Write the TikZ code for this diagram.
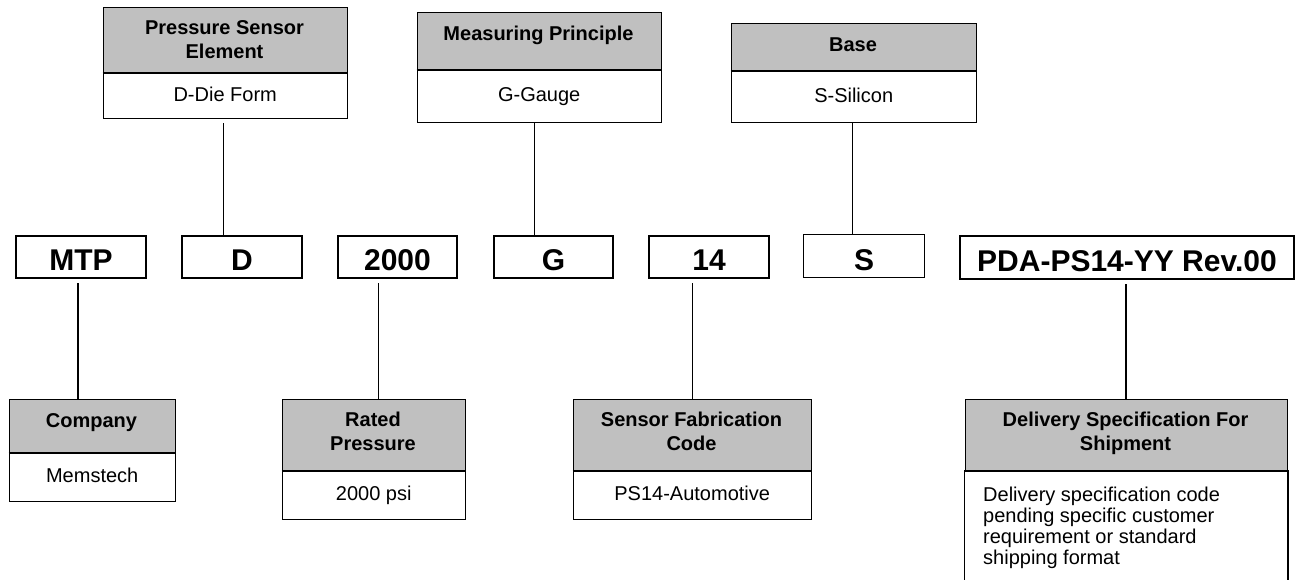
\documentclass[tikz,border=0pt]{standalone}
\usepackage{fontspec}
\setmainfont{Liberation Sans}
\usetikzlibrary{calc}
\definecolor{hdrgray}{RGB}{192,192,192}
\begin{document}
\begin{tikzpicture}[x=1pt,y=-1pt,
  hbox/.style={draw=black,fill=hdrgray,line width=1.4pt,rectangle,inner sep=0pt,anchor=north west},
  bbox/.style={draw=black,fill=white,line width=1.4pt,rectangle,inner sep=0pt,anchor=north west,
    font=\fontsize{20}{24}\selectfont,text height=14pt,text depth=4pt},
  cbox/.style={draw=black,line width=2.6pt,rectangle,inner sep=0pt,minimum height=42pt,
    font=\fontsize{30}{36}\selectfont\bfseries,text height=27pt,text depth=0pt},
  htext/.style={font=\fontsize{20}{24}\selectfont\bfseries,align=center,inner sep=0pt},
  sep/.style={line width=2pt},
  conn/.style={draw=black,line width=1.2pt}]
\useasboundingbox (0,0) rectangle (1296,579);

% ---- top description boxes ----
\node[hbox,minimum width=244pt,minimum height=66.5pt] (pseh) at (102.5,6.5) {};
\node[bbox,minimum width=244pt,minimum height=45pt] (pseb) at (102.5,73) {D-Die Form};
\draw[sep] (pseb.north west) -- (pseb.north east);
\node[htext,anchor=center] (pset) at (224.5,40) {Pressure Sensor\\Element};

\node[hbox,minimum width=244pt,minimum height=58pt] (mph) at (416.5,12) {};
\node[bbox,minimum width=244pt,minimum height=52pt] (mpb) at (416.5,70) {G-Gauge};
\draw[sep] (mpb.north west) -- (mpb.north east);
\node[htext,anchor=base] (mpt) at (538.5,40) {Measuring Principle};

\node[hbox,minimum width=245pt,minimum height=48pt] (baseh) at (730.5,23) {};
\node[bbox,minimum width=245pt,minimum height=51pt] (baseb) at (730.5,71) {S-Silicon};
\draw[sep] (baseb.north west) -- (baseb.north east);
\node[htext,anchor=base] (baset) at (853,51.7) {Base};

% ---- code boxes ----
\node[cbox,minimum width=130pt] (cmtp) at (81,257) {MTP};
\node[cbox,minimum width=120pt] (cd) at (242,257) {D};
\node[cbox,minimum width=119pt] (c2000) at (397.5,257) {2000};
\node[cbox,minimum width=119pt] (cg) at (553.5,257) {G};
\node[cbox,minimum width=120pt] (c14) at (709,257) {14};
\node[cbox,line width=1.5pt,minimum width=121pt,minimum height=43pt,text height=28pt] (cs) at (864,256) {S};
\node[cbox,minimum width=334pt,minimum height=43pt] (cpda) at (1127,257.5) {PDA-PS14-YY Rev.00};

% ---- bottom description boxes ----
\node[hbox,minimum width=166pt,minimum height=54.5pt] (comph) at (8.5,398.5) {};
\node[bbox,minimum width=166pt,minimum height=48pt] (compb) at (8.5,453) {Memstech};
\draw[line width=2.6pt] (compb.north west) -- (compb.north east);
\node[htext,anchor=base] (compt) at (91.5,427.7) {Company};

\node[hbox,minimum width=183pt,minimum height=72.5pt] (rath) at (281.5,398.5) {};
\node[bbox,minimum width=183pt,minimum height=48pt] (ratb) at (281.5,471) {2000 psi};
\draw[sep] (ratb.north west) -- (ratb.north east);
\node[htext,anchor=center] (ratt) at (373,431.8) {Rated\\Pressure};

\node[hbox,minimum width=238pt,minimum height=72.5pt] (sensh) at (572.5,398.5) {};
\node[bbox,minimum width=238pt,minimum height=48pt] (sensb) at (572.5,471) {PS14-Automotive};
\draw[sep] (sensb.north west) -- (sensb.north east);
\node[htext,anchor=center] (senst) at (691.5,431.8) {Sensor Fabrication\\Code};

\node[hbox,minimum width=322pt,minimum height=72.5pt] (delh) at (964.5,398.5) {};
\node[bbox,draw=none,minimum width=322pt,minimum height=108pt] (delb) at (964.5,471) {};
\draw[line width=1.4pt] (delb.south west) -- (delb.north west) -- (delb.north east) -- (delb.south east);
\draw[sep] (delb.north west) -- (delb.north east);
\node[htext,anchor=center] (delt) at (1125.5,433.6) {Delivery Specification For\\Shipment};
\node[font=\fontsize{20}{21}\selectfont,align=left,inner sep=0pt,anchor=north west] (deltxt) at (983,486.5)
  {Delivery specification code\\pending specific customer\\requirement or standard\\shipping format};

% ---- connectors ----
\coordinate (l1) at ([xshift=-1.5pt,yshift=-4pt]pseb.south);
\draw[conn] (l1) -- (l1 |- cd.north);
\coordinate (l2) at ([xshift=-4.5pt]mpb.south);
\draw[conn] (l2) -- (l2 |- cg.north);
\coordinate (l3) at ([xshift=-1pt]baseb.south);
\draw[conn] (l3) -- (l3 |- cs.north);
\coordinate (l4) at ([xshift=-3pt,yshift=-4pt]cmtp.south);
\draw[conn] (l4) -- (l4 |- comph.north);
\coordinate (l5) at ([xshift=5pt]rath.north);
\coordinate (l5b) at ([yshift=-4pt]c2000.south);
\draw[conn] (l5 |- l5b) -- (l5);
\coordinate (l6) at ([xshift=0.5pt]sensh.north);
\coordinate (l6b) at ([yshift=-4pt]c14.south);
\draw[conn] (l6 |- l6b) -- (l6);
\coordinate (l7) at ([xshift=-1pt,yshift=-4pt]cpda.south);
\draw[conn] (l7) -- (l7 |- delh.north);
\end{tikzpicture}
\end{document}
